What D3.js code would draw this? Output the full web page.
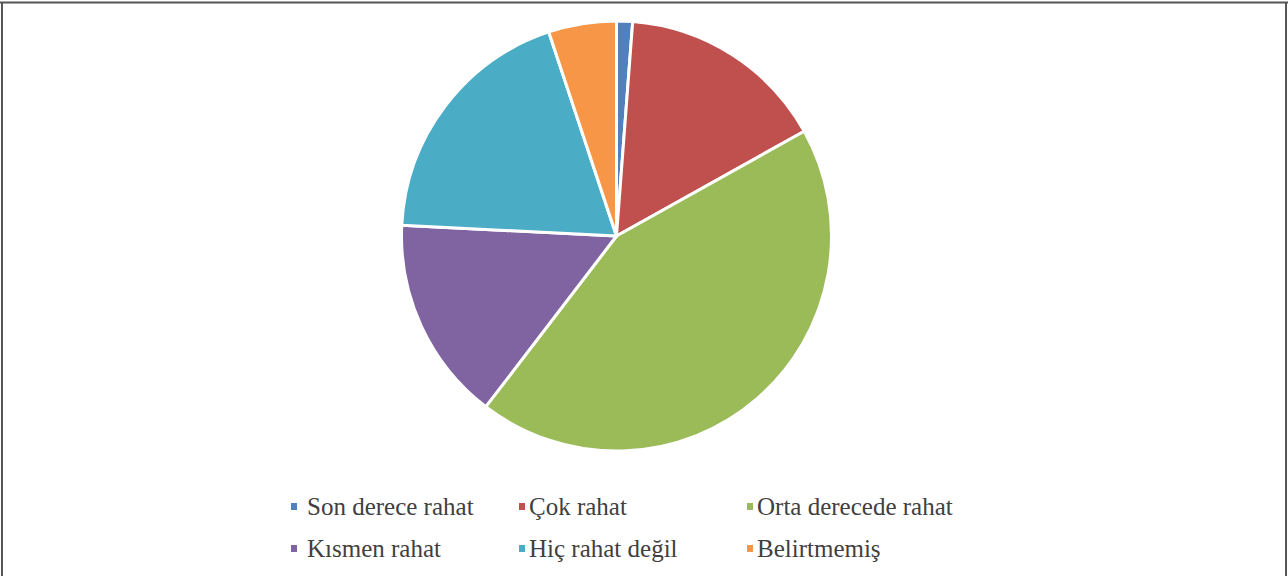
<!DOCTYPE html>
<html>
<head>
<meta charset="utf-8">
<script src="https://cdn.jsdelivr.net/npm/d3@7"></script>
<style>
  html, body { margin: 0; padding: 0; background: #fff; }
  svg { display: block; }
  .lg text { font-family: "Liberation Serif", "Times New Roman", "DejaVu Serif", serif; }
</style>
</head>
<body>
<svg id="chart" width="1288" height="576"></svg>
<script>
const categories = ["Son derece rahat", "Çok rahat", "Orta derecede rahat", "Kısmen rahat", "Hiç rahat değil", "Belirtmemiş"];
const values = [1.2, 15.7, 43.5, 15.4, 19.1, 5.1];
const colors = ["#4f81bd", "#c0504d", "#9bbb59", "#8064a2", "#4bacc6", "#f79646"];

const svg = d3.select("#chart");
const W = 1288, H = 576;

// frame
svg.append("line").attr("x1", 0).attr("x2", W).attr("y1", 2.5).attr("y2", 2.5).attr("stroke", "#555").attr("stroke-width", 2);
svg.append("line").attr("x1", 2).attr("x2", 2).attr("y1", 2).attr("y2", H).attr("stroke", "#555").attr("stroke-width", 2);
svg.append("line").attr("x1", 1286).attr("x2", 1286).attr("y1", 2).attr("y2", H).attr("stroke", "#555").attr("stroke-width", 2);

const cx = 616.5, cy = 236, r = 215;
const pie = d3.pie().sort(null).value(d => d.v);
const arc = d3.arc().innerRadius(0).outerRadius(r);
const data = categories.map((c, i) => ({ c, v: values[i], col: colors[i] }));

svg.append("g").attr("transform", `translate(${cx},${cy})`)
  .selectAll("path").data(pie(data)).join("path")
  .attr("d", arc)
  .attr("fill", d => d.data.col)
  .attr("stroke", "#fff")
  .attr("stroke-width", 3)
  .attr("stroke-linejoin", "round");

// legend
const colX = [291, 519, 747];
const rowY = [515, 557];
const lg = svg.append("g").attr("class", "lg");
data.forEach((d, i) => {
  const col = i % 3, row = Math.floor(i / 3);
  const x = colX[col], y = rowY[row];
  lg.append("rect").attr("x", x).attr("y", y - 12).attr("width", 6).attr("height", 7).attr("fill", d.col);
  lg.append("text").attr("x", x + (col === 0 ? 16 : 10)).attr("y", y)
    .attr("font-size", 25).attr("fill", "#404040").text(d.c);
});
</script>
</body>
</html>
